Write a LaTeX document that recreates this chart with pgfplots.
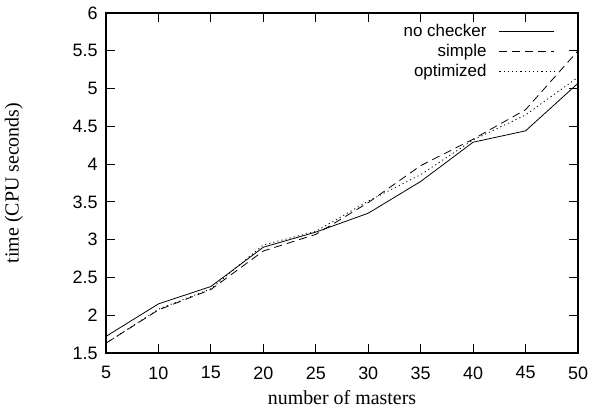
\documentclass[border=0pt]{standalone}
\usepackage{pgfplots}
\pgfplotsset{compat=1.18}
\usepackage{fontspec}
\setmainfont{Liberation Serif}
\newfontfamily\helv{Liberation Sans}
\begin{document}
\begin{tikzpicture}
\begin{axis}[
  name=ax,
  scale only axis,
  width=472bp, height=340bp,
  xmin=5, xmax=50, ymin=1.5, ymax=6,
  xtick={5,10,...,50},
  ytick={1.5,2,2.5,3,3.5,4,4.5,5,5.5,6},
  tick align=inside,
  major tick length=9bp,
  axis line style={line width=1.3pt},
  tick style={line width=1.2pt, black},
  /pgf/number format/assume math mode=true,
  ticklabel style={font=\helv\fontsize{18}{21}\selectfont},
  xticklabel style={yshift=-10bp},
  yticklabel style={xshift=-5bp},
  xlabel={number of masters},
  ylabel={time (CPU seconds)},
  every axis x label/.style={at={(axis description cs:0.5,-0.132)}, anchor=center, font=\fontsize{20}{24}\selectfont},
  every axis y label/.style={at={(axis description cs:-0.195,0.5)}, anchor=center, rotate=90, font=\fontsize{20}{24}\selectfont},
  legend style={draw=none, fill=none, at={(1,1)}, anchor=north east,
    xshift=-20bp, yshift=-9bp,
    font=\helv\fontsize{17}{19}\selectfont, row sep=5bp, column sep=12bp,
    nodes={inner sep=0.5bp}},
  legend cell align=right,
  legend plot pos=right,
  legend image code/.code={\draw[#1] (0bp,0bp) -- (55bp,0bp);},
]
\addplot[black, line width=0.8pt] coordinates {(5,1.72) (10,2.15) (15,2.38) (20,2.9) (25,3.1) (30,3.35) (35,3.77) (40,4.29) (45,4.44) (50,5.07)};
\addlegendentry{no checker}
\addplot[black, line width=0.8pt, dash pattern=on 8bp off 5bp] coordinates {(5,1.63) (10,2.07) (15,2.34) (20,2.85) (25,3.07) (30,3.49) (35,3.98) (40,4.33) (45,4.72) (50,5.5)};
\addlegendentry{simple}
\addplot[black, line width=0.8pt, dash pattern=on 1.2bp off 3bp] coordinates {(5,1.63) (10,2.08) (15,2.35) (20,2.93) (25,3.11) (30,3.51) (35,3.86) (40,4.32) (45,4.65) (50,5.15)};
\addlegendentry{optimized}
\end{axis}
\path ([xshift=-106bp,yshift=-62bp]ax.south west) rectangle ([xshift=22bp,yshift=13bp]ax.north east);
\end{tikzpicture}
\end{document}
